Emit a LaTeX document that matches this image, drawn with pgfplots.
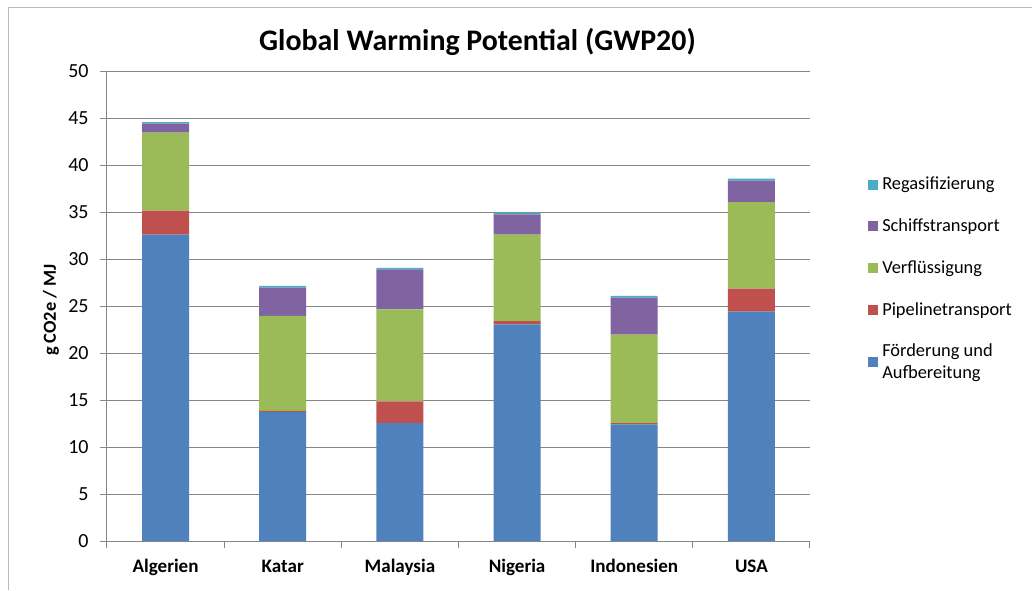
\documentclass[border=0pt]{standalone}
\usepackage{fontspec}
\setmainfont{Carlito}
\usepackage{pgfplots}
\pgfplotsset{compat=1.18}
\definecolor{sblue}{HTML}{4F81BD}
\definecolor{sred}{HTML}{C0504D}
\definecolor{sgreen}{HTML}{9BBB59}
\definecolor{spurple}{HTML}{8064A2}
\definecolor{scyan}{HTML}{4BACC6}
\definecolor{gridgray}{HTML}{868686}

\begin{document}
\begin{tikzpicture}
\useasboundingbox (0pt,0pt) rectangle (774pt,-442.5pt);
\draw[gray!55, line width=0.75pt] (6pt,-442.5pt) -- (6pt,-5.25pt) -- (774pt,-5.25pt);
\node[font=\fontsize{22.4}{26}\selectfont\bfseries] at (358.1pt,-31.5pt) {Global Warming Potential (GWP20)};
\begin{axis}[
    at={(80.25pt,-405.75pt)}, anchor=south west,
    width=527.25pt, height=352.5pt, scale only axis,
    ybar stacked, bar width=35.25pt,
    ymin=0, ymax=50, ytick={0,5,...,50},
    xmin=-0.5, xmax=5.5,
    xtick={-0.5,0.5,...,5.5}, x tick label as interval,
    xticklabels={Algerien,Katar,Malaysia,Nigeria,Indonesien,USA},
    axis lines*=left,
    axis line style={gridgray, line width=0.75pt},
    ymajorgrids, xmajorgrids=false,
    grid style={gridgray, line width=0.75pt},
    tick align=outside, major tick length=5.25pt,
    tick style={gridgray, line width=0.75pt},
    /pgf/number format/assume math mode=true,
    yticklabel style={font=\fontsize{15}{18}\selectfont, xshift=-5pt},
    xticklabel style={font=\fontsize{14.3}{17}\selectfont\bfseries,
        text height=11pt, text depth=3pt, yshift=-3.75pt},
    ylabel={g CO2e / MJ},
    every axis y label/.style={at={(axis description cs:-0.0797,0.4915)}, rotate=90, anchor=center,
        font=\fontsize{13.8}{16}\selectfont\bfseries},
    reverse legend,
    legend image code/.code={\fill[#1] (0pt,-3.75pt) rectangle (7.5pt,3.75pt);},
    legend cell align=left,
    legend style={draw=none, fill=none, inner sep=0pt,
        at={(axis description cs:1.0825,0.7745)}, anchor=north west,
        row sep=20.2pt, column sep=3pt,
        font=\fontsize{13.8}{16.5}\selectfont,
        nodes={inner sep=0pt, align=left}},
]
\addplot[fill=sblue, draw=none] coordinates {(0,32.6) (1,13.7) (2,12.55) (3,23.05) (4,12.4) (5,24.4)};
\addplot[fill=sred, draw=none] coordinates {(0,2.55) (1,0.15) (2,2.3) (3,0.35) (4,0.15) (5,2.45)};
\addplot[fill=sgreen, draw=none] coordinates {(0,8.3) (1,10.1) (2,9.8) (3,9.2) (4,9.4) (5,9.2)};
\addplot[fill=spurple, draw=none] coordinates {(0,0.95) (1,3.0) (2,4.25) (3,2.15) (4,3.95) (5,2.3)};
\addplot[fill=scyan, draw=none] coordinates {(0,0.15) (1,0.18) (2,0.15) (3,0.18) (4,0.18) (5,0.2)};
\legend{{Förderung und\\Aufbereitung},Pipelinetransport,Verflüssigung,Schiffstransport,Regasifizierung}
\end{axis}
\end{tikzpicture}
\end{document}
